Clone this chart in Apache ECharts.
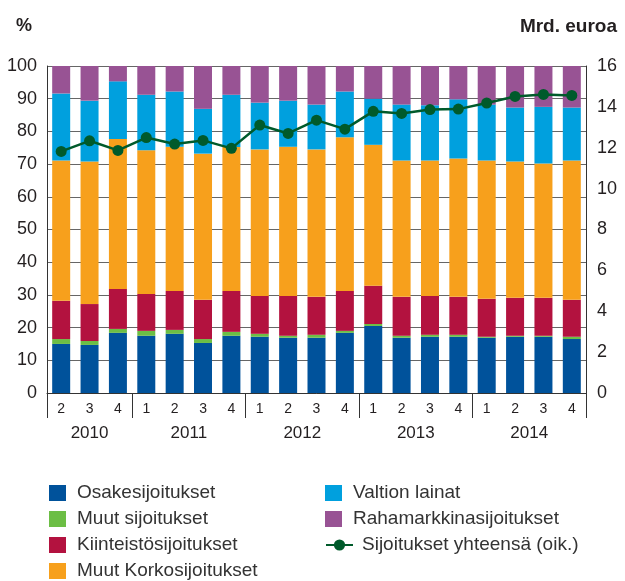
<!DOCTYPE html>
<html>
<head>
<meta charset="utf-8">
<script src="https://cdn.jsdelivr.net/npm/echarts@6/dist/echarts.min.js"></script>
<style>
  html, body { margin: 0; padding: 0; background: #fff; }
  #chart { width: 625px; height: 581px; }
</style>
</head>
<body>
<div id="chart"></div>
<script>
const quarters = ['2', '3', '4', '1', '2', '3', '4', '1', '2', '3', '4', '1', '2', '3', '4', '1', '2', '3', '4']
const years = ['2010', '2011', '2012', '2013', '2014']
const quartersPerYear = [3, 4, 4, 4, 4]

// osuudet, %
const osake = [15.0, 14.7, 18.4, 17.5, 18.1, 15.3, 17.5, 17.2, 16.9, 16.9, 18.4, 20.5, 16.9, 17.2, 17.2, 16.9, 17.2, 17.2, 16.5]
const muut = [1.5, 1.2, 1.2, 1.5, 1.2, 1.2, 1.2, 0.9, 0.6, 0.9, 0.6, 0.6, 0.6, 0.6, 0.6, 0.3, 0.3, 0.3, 0.7]
const kiinteisto = [11.7, 11.3, 12.2, 11.3, 11.9, 12.0, 12.5, 11.6, 12.2, 11.6, 12.2, 11.7, 11.9, 11.9, 11.6, 11.6, 11.6, 11.6, 11.3]
const korko = [42.9, 43.6, 45.9, 43.9, 44.1, 44.7, 44.0, 44.8, 45.6, 45.1, 47.0, 43.1, 41.7, 41.4, 42.3, 42.3, 41.7, 41.1, 42.6]
const valtion = [20.5, 18.6, 17.6, 17.0, 16.9, 13.7, 16.0, 14.3, 14.1, 13.7, 14.0, 14.1, 17.1, 16.9, 18.1, 17.1, 16.5, 17.3, 16.2]
const raha = [8.4, 10.6, 4.7, 8.8, 7.8, 13.1, 8.8, 11.2, 10.6, 11.8, 7.8, 10.0, 11.8, 12.0, 10.2, 11.8, 12.7, 12.5, 12.7]

// yhteensä, mrd. euroa (oikea akseli)
const yhteensa = [11.82, 12.34, 11.87, 12.50, 12.18, 12.36, 11.97, 13.11, 12.70, 13.35, 12.91, 13.78, 13.68, 13.87, 13.89, 14.19, 14.51, 14.61, 14.56]

// year axis: half-quarter slots so that year labels sit in the middle of their group
const yearSlots = []
for (let i = 0; i <= quarters.length * 2; i++) yearSlots.push(String(i))
const yearLabelAt = {}
const yearEdges = new Set([0])
let pos = 0
quartersPerYear.forEach((n, i) => {
  yearLabelAt[pos * 2 + n] = years[i]
  pos += n
  yearEdges.add(pos * 2)
})

const font = '"Liberation Sans", Arial, sans-serif'
const textColor = '#231f20'

const chart = echarts.init(document.getElementById('chart'))

const barSeries = (name, data, color) => ({
  name,
  type: 'bar',
  stack: 'total',
  data,
  barWidth: 18,
  itemStyle: { color },
  emphasis: { disabled: true }
})

// one legend per row, two columns
const legendItem = (left, row, name, isLine) => ({
  left,
  top: 483 + row * 26,
  padding: 0,
  itemWidth: isLine ? 27 : 17,
  itemHeight: isLine ? 14 : 16,
  icon: isLine ? undefined : 'rect',
  textStyle: { fontSize: 19, color: '#333', lineHeight: 20, padding: [0, 0, 0, isLine ? 4 : 6] },
  data: [name]
})

const option = {
  animation: false,
  textStyle: { fontFamily: font },
  title: [
    { text: '%', left: 11, top: 12, textStyle: { fontSize: 18, fontWeight: 'bold', color: textColor, fontFamily: font } },
    { text: 'Mrd. euroa', right: 3, top: 12, textStyle: { fontSize: 19, fontWeight: 'bold', color: textColor, fontFamily: font } }
  ],
  grid: { left: 47, right: 39, top: 66, bottom: 188 },
  legend: [
    legendItem(49, 0, 'Osakesijoitukset'),
    legendItem(49, 1, 'Muut sijoitukset'),
    legendItem(49, 2, 'Kiinteistösijoitukset'),
    legendItem(49, 3, 'Muut Korkosijoitukset'),
    legendItem(325, 0, 'Valtion lainat'),
    legendItem(325, 1, 'Rahamarkkinasijoitukset'),
    legendItem(325, 2, 'Sijoitukset yhteensä (oik.)', true)
  ],
  xAxis: [
    {
      type: 'category',
      data: quarters,
      axisLine: { lineStyle: { color: '#333', width: 1 } },
      axisTick: { length: 21, interval: 0, lineStyle: { color: '#333' } },
      axisLabel: { interval: 0, margin: 9, fontSize: 14, color: textColor }
    },
    {
      type: 'category',
      position: 'bottom',
      offset: 21,
      data: yearSlots,
      boundaryGap: false,
      axisLine: { show: false },
      axisTick: {
        length: 25,
        interval: (i) => yearEdges.has(i),
        lineStyle: { color: '#333' }
      },
      axisLabel: {
        interval: 0,
        margin: 11,
        fontSize: 17,
        color: textColor,
        formatter: (v, i) => yearLabelAt[i] || ''
      }
    }
  ],
  yAxis: [
    {
      type: 'value',
      min: 0, max: 100, interval: 10,
      axisLine: { show: true, lineStyle: { color: '#333' } },
      axisTick: { show: false },
      axisLabel: { fontSize: 18, color: textColor, margin: 10 },
      splitLine: { lineStyle: { color: '#666', width: 1 } }
    },
    {
      type: 'value',
      min: 0, max: 16, interval: 2,
      axisLine: { show: true, lineStyle: { color: '#333' } },
      axisTick: { show: false },
      axisLabel: { fontSize: 18, color: textColor, margin: 11 },
      splitLine: { show: false }
    }
  ],
  series: [
    barSeries('Osakesijoitukset', osake, '#00529b'),
    barSeries('Muut sijoitukset', muut, '#6cbe45'),
    barSeries('Kiinteistösijoitukset', kiinteisto, '#b3123f'),
    barSeries('Muut Korkosijoitukset', korko, '#f7a01c'),
    barSeries('Valtion lainat', valtion, '#00a0de'),
    barSeries('Rahamarkkinasijoitukset', raha, '#985394'),
    {
      name: 'Sijoitukset yhteensä (oik.)',
      type: 'line',
      yAxisIndex: 1,
      data: yhteensa,
      z: 5,
      symbol: 'circle',
      symbolSize: 11,
      lineStyle: { color: '#005a2b', width: 2.5 },
      itemStyle: { color: '#005a2b' },
      emphasis: { disabled: true }
    }
  ]
}

chart.setOption(option)
</script>
</body>
</html>
